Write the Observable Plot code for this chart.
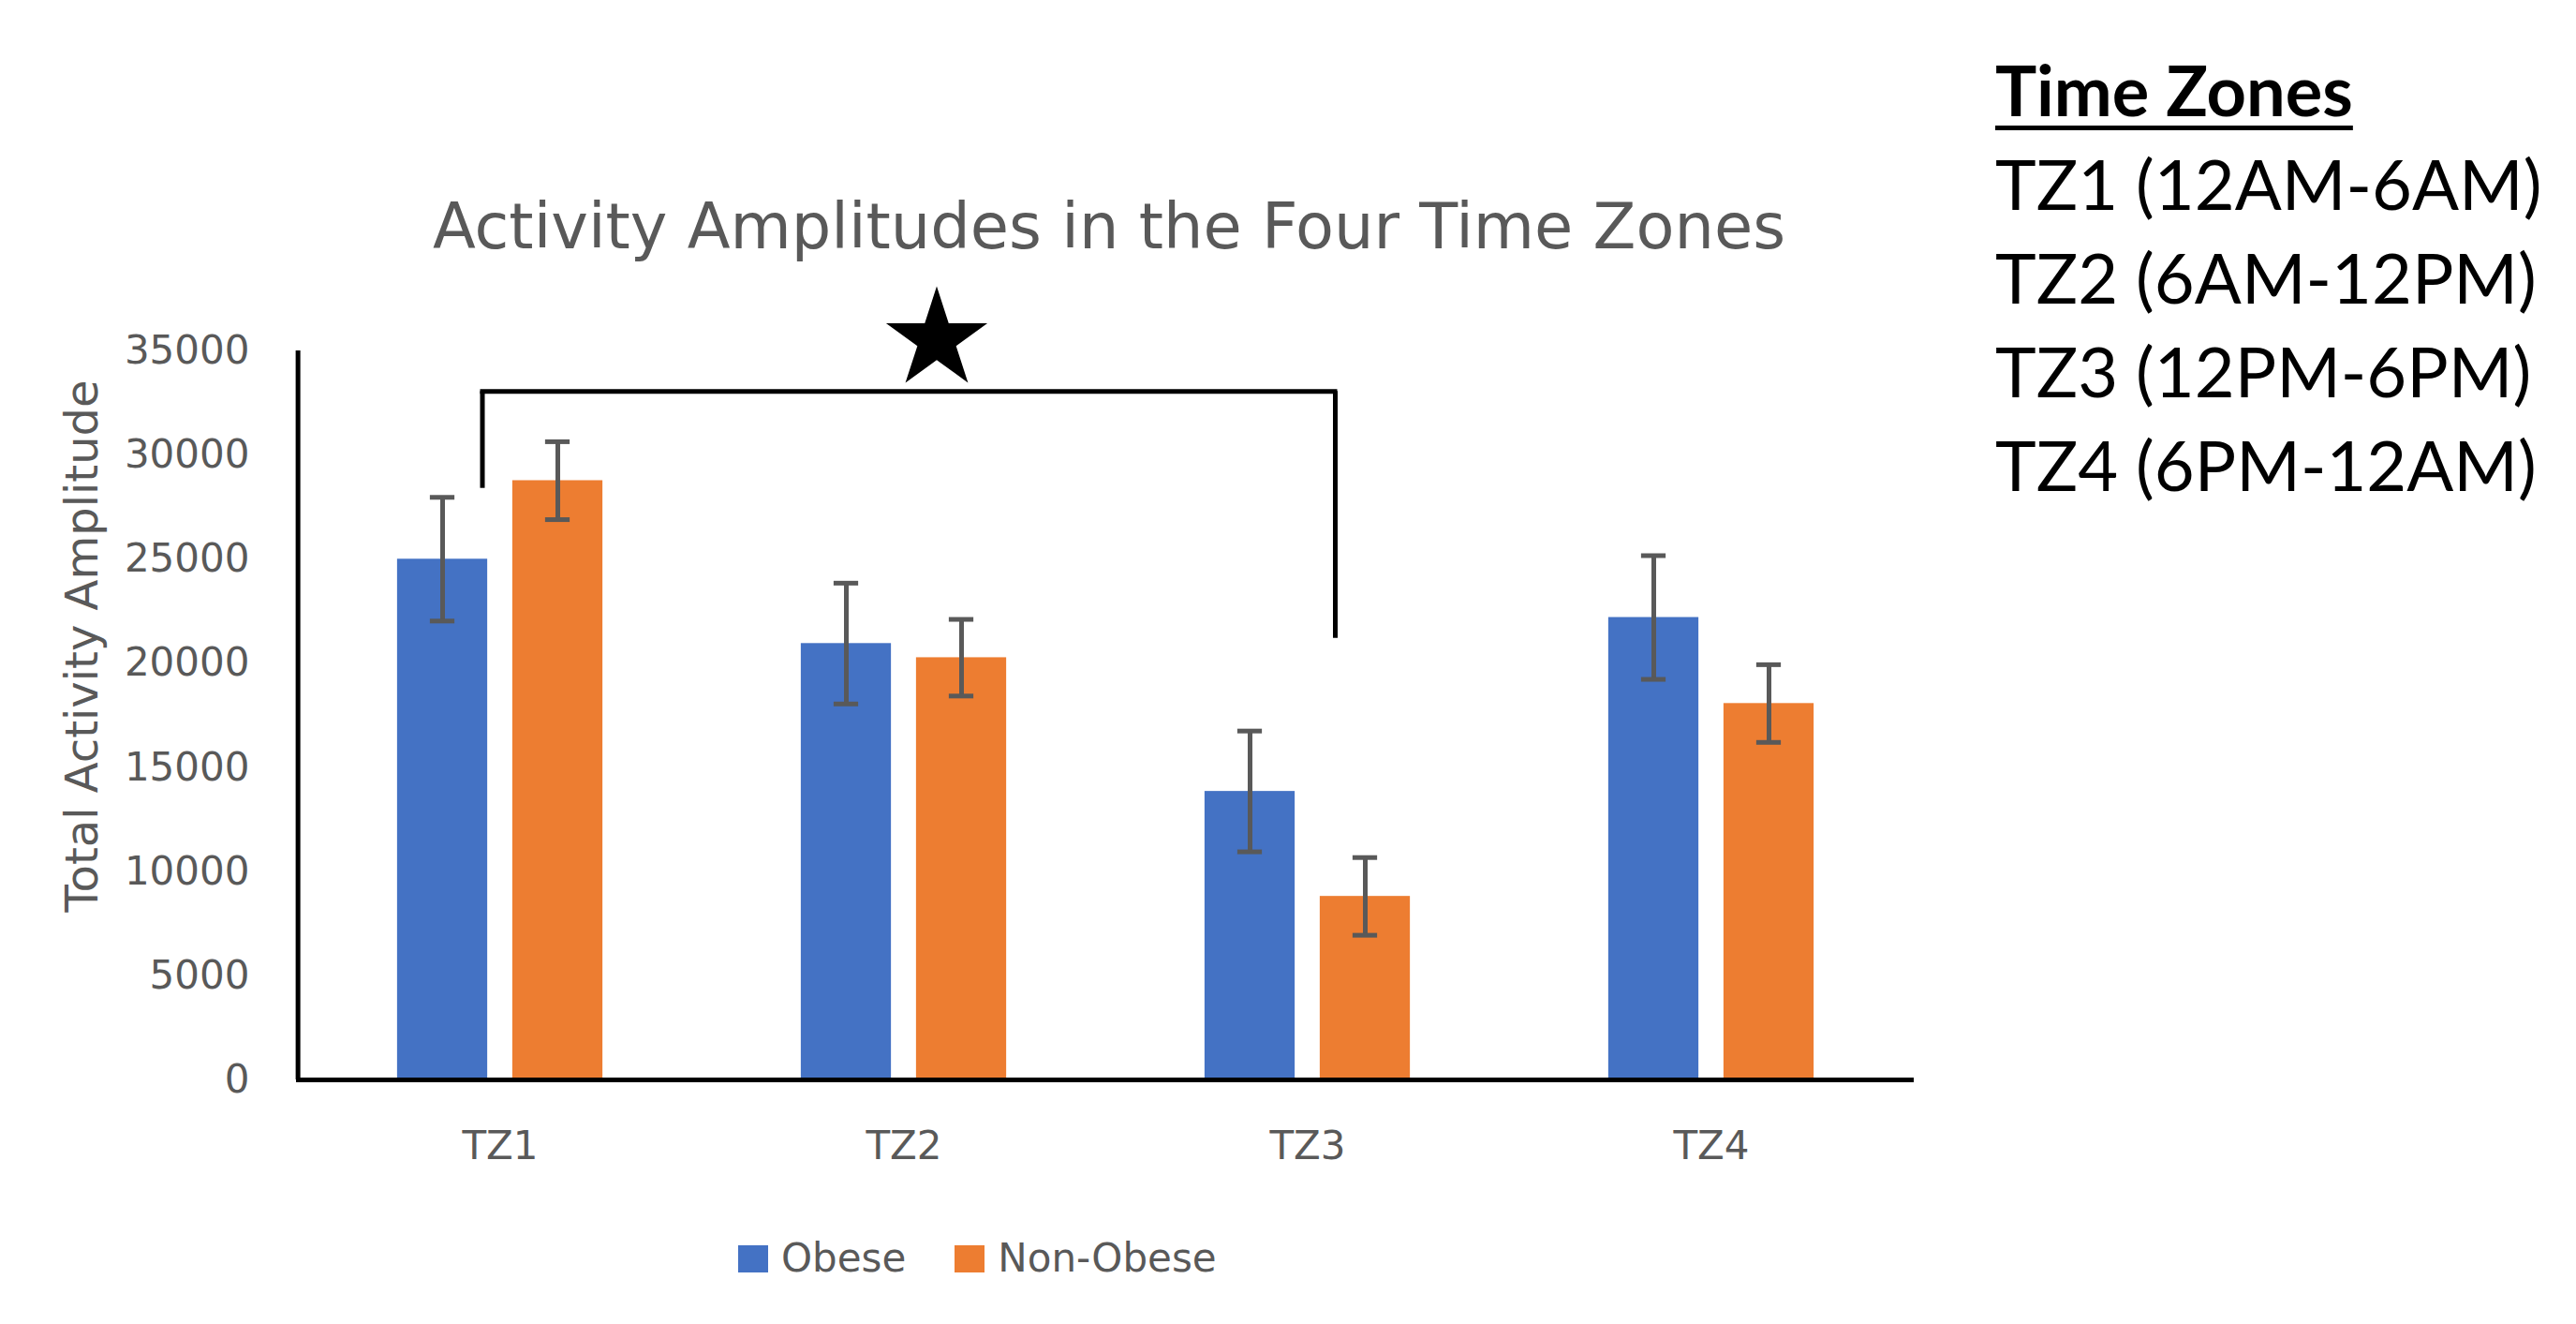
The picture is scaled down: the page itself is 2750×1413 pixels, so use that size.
<!DOCTYPE html>
<html>
<head>
<meta charset="utf-8">
<script src="https://cdn.jsdelivr.net/npm/d3@7"></script>
<script src="https://cdn.jsdelivr.net/npm/@observablehq/plot@0.6"></script>
<style>
  html, body { margin: 0; padding: 0; background: #ffffff; }
  #root { position: relative; width: 2750px; height: 1413px; overflow: hidden; background: #ffffff; }
  #chart { position: absolute; left: 0; top: 0; }
  #title { position: absolute; left: 0; width: 2368px; top: 203px; text-align: center;
           font-family: "DejaVu Sans"; font-size: 67px; color: #595959; white-space: nowrap; }
  #zones { position: absolute; left: 2130px; top: 46px; font-family: Lato; font-size: 74px;
           line-height: 100px; color: #000000; white-space: nowrap; }
  #zones .head { font-weight: bold; text-decoration: underline; text-decoration-thickness: 5px;
                 text-underline-offset: 10px; }
  #legend { position: absolute; left: 788px; top: 1313px; height: 60px; display: flex; align-items: center;
            font-family: "DejaVu Sans"; font-size: 42px; line-height: 60px; color: #595959; white-space: nowrap; }
  #legend .sw { display: inline-block; width: 32px; height: 29px; margin-right: 14px; }
  #legend .item { display: flex; align-items: center; margin-right: 52px; }
</style>
</head>
<body>
<div id="root">
  <div id="chart"></div>
  <div id="title"></div>
  <div id="zones"></div>
  <div id="legend"></div>
</div>
<script>
// ---- data ----
const chartTitle = "Activity Amplitudes in the Four Time Zones";
const yLabel = "Total Activity Amplitude";
const zones = ["TZ1", "TZ2", "TZ3", "TZ4"];
const groups = ["Obese", "Non-Obese"];
const obeseValues = [25000, 20950, 13850, 22200];
const obeseErrors = [2970, 2900, 2900, 2970];
const nonObeseValues = [28770, 20270, 8810, 18070];
const nonObeseErrors = [1870, 1840, 1865, 1865];
const groupColors = ["#4472C4", "#ED7D31"];
const yTicks = [0, 5000, 10000, 15000, 20000, 25000, 30000, 35000];
const zoneHeading = "Time Zones";
const zoneDescriptions = ["TZ1 (12AM-6AM)", "TZ2 (6AM-12PM)", "TZ3 (12PM-6PM)", "TZ4 (6PM-12AM)"];
// significance bracket between TZ1 and TZ3
const bracketFrom = ["TZ1"];
const bracketTo = ["TZ3"];
const bracketTop = [33050];
const bracketLeftEnd = [28400];
const bracketRightEnd = [21200];
const starZone = ["TZ2"];
const starValue = [35540];

// ---- layout / style ----
const W = 2750, H = 1260;
const mL = 316, mR = 707, mT = 374, mB = 108;
const bw = (W - mL - mR) / zones.length;
const barW = 97, barGap = 26, capW = 27;
const off = (barW + barGap) / 2;
const insetNear = bw / 2 - barGap / 2 - barW;
const insetFar = bw / 2 + barGap / 2;
const errColor = "#595959";

const series = [
  {values: obeseValues, errors: obeseErrors},
  {values: nonObeseValues, errors: nonObeseErrors}
];

const marks = [];
groups.forEach((g, gi) => {
  const data = zones.map((z, i) => ({zone: z, group: g, value: series[gi].values[i], err: series[gi].errors[i]}));
  const sign = gi === 0 ? -1 : 1;
  marks.push(Plot.barY(data, {
    x: "zone", y: "value", fill: groupColors[gi],
    insetLeft: gi === 0 ? insetNear : insetFar,
    insetRight: gi === 0 ? insetFar : insetNear
  }));
  marks.push(Plot.ruleX(data, {
    x: "zone", y1: d => d.value - d.err, y2: d => d.value + d.err,
    dx: sign * off, stroke: errColor, strokeWidth: 5
  }));
  for (const s of [-1, 1]) {
    marks.push(Plot.tickY(data, {
      x: "zone", y: d => d.value + s * d.err, dx: sign * off,
      insetLeft: (bw - capW) / 2, insetRight: (bw - capW) / 2,
      stroke: errColor, strokeWidth: 5
    }));
  }
});

const bracket = bracketFrom.map((f, i) => ({from: f, to: bracketTo[i], top: bracketTop[i], l: bracketLeftEnd[i], r: bracketRightEnd[i]}));
marks.push(Plot.ruleY(bracket, {x1: "from", x2: "to", y: "top", insetLeft: 197, insetRight: 186, stroke: "#000", strokeWidth: 5, strokeLinecap: "square"}));
marks.push(Plot.ruleX(bracket, {x: "from", y1: "l", y2: "top", dx: -19, stroke: "#000", strokeWidth: 5}));
marks.push(Plot.ruleX(bracket, {x: "to", y1: "r", y2: "top", dx: 29.5, stroke: "#000", strokeWidth: 5}));
const star = starZone.map((z, i) => ({zone: z, value: starValue[i]}));
marks.push(Plot.dot(star, {x: "zone", y: "value", dx: 35, symbol: "star", r: 34, fill: "#000", stroke: "none"}));

// axis lines
marks.push(Plot.ruleY([0], {stroke: "#000", strokeWidth: 5}));
marks.push(Plot.ruleX([zones[0]], {x: d => d, dx: -bw / 2, y1: 0, y2: yTicks[yTicks.length - 1], stroke: "#000", strokeWidth: 5}));
// y axis title
marks.push(Plot.text([yLabel], {text: d => d, frameAnchor: "left", dx: -228, dy: -74, rotate: -90,
  fontSize: 48, fill: "#595959", textAnchor: "middle"}));

const chart = Plot.plot({
  width: W, height: H,
  marginLeft: mL, marginRight: mR, marginTop: mT, marginBottom: mB,
  style: {background: "transparent", fontFamily: "DejaVu Sans", fontSize: "42px", color: "#595959", overflow: "visible"},
  x: {domain: zones, padding: 0, tickSize: 0, tickPadding: 55, label: null},
  y: {domain: [0, 35000], ticks: yTicks, tickFormat: "d", tickSize: 0, tickPadding: 50, label: null},
  marks
});
document.getElementById("chart").appendChild(chart);

// title
document.getElementById("title").textContent = chartTitle;

// time zones list
const zonesDiv = document.getElementById("zones");
const head = document.createElement("div");
head.className = "head";
head.textContent = zoneHeading;
zonesDiv.appendChild(head);
zoneDescriptions.forEach(t => {
  const d = document.createElement("div");
  d.textContent = t;
  zonesDiv.appendChild(d);
});

// legend
const legend = document.getElementById("legend");
groups.forEach((g, i) => {
  const item = document.createElement("span");
  item.className = "item";
  const sw = document.createElement("span");
  sw.className = "sw";
  sw.style.background = groupColors[i];
  const lab = document.createElement("span");
  lab.textContent = g;
  item.appendChild(sw);
  item.appendChild(lab);
  legend.appendChild(item);
});
</script>
</body>
</html>
